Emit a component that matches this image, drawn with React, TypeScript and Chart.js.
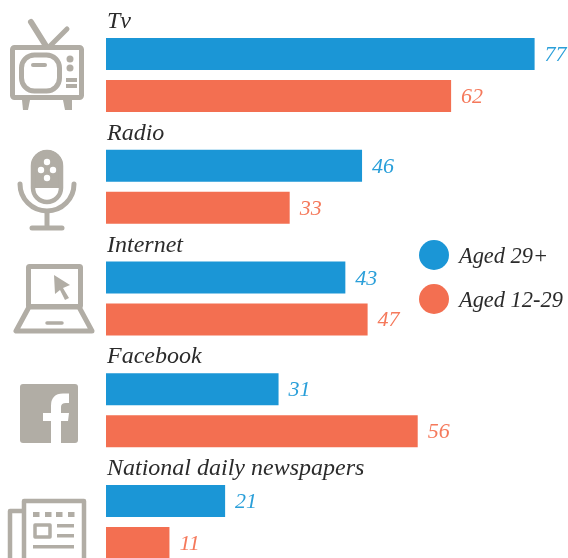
import React, { useEffect, useRef } from "react";
import { Chart, registerables } from "chart.js";

Chart.register(...registerables);

const categories = ["Tv", "Radio", "Internet", "Facebook", "National daily newspapers"];
const aged29plus = [77, 46, 43, 31, 21.4];
const aged12to29 = [62, 33, 47, 56, 11.4];
const seriesNames = ["Aged 29+", "Aged 12-29"];

const BLUE = "#1B96D6";
const ORANGE = "#F36F51";
const GREY = "#B1ADA5";
const INK = "#2b2b2b";
const SERIF = '"Liberation Serif"';

function line(c: CanvasRenderingContext2D, x1: number, y1: number, x2: number, y2: number, w: number, cap: CanvasLineCap = "butt") {
  c.lineWidth = w;
  c.lineCap = cap;
  c.beginPath();
  c.moveTo(x1, y1);
  c.lineTo(x2, y2);
  c.stroke();
}
function poly(c: CanvasRenderingContext2D, pts: number[][]) {
  c.beginPath();
  pts.forEach((p, i) => (i ? c.lineTo(p[0], p[1]) : c.moveTo(p[0], p[1])));
  c.closePath();
}
function rrect(c: CanvasRenderingContext2D, x: number, y: number, w: number, h: number, r: number, lw: number) {
  c.lineWidth = lw;
  c.beginPath();
  c.roundRect(x, y, w, h, r);
  c.stroke();
}
function dot(c: CanvasRenderingContext2D, x: number, y: number, r: number) {
  c.beginPath();
  c.arc(x, y, r, 0, Math.PI * 2);
  c.fill();
}

function drawIcons(c: CanvasRenderingContext2D) {
  c.save();
  c.strokeStyle = GREY;
  c.fillStyle = GREY;
  c.lineJoin = "round";
  // TV
  line(c, 31, 22, 46, 46, 6, "round");
  line(c, 67, 29, 50, 46, 5, "round");
  rrect(c, 12.5, 47.5, 69, 50, 2, 5);
  rrect(c, 21.5, 55, 38, 36, 13, 5);
  line(c, 33, 65, 45, 65, 4, "round");
  dot(c, 70, 59, 3.5);
  dot(c, 70, 68, 3.5);
  c.fillRect(66, 78, 11, 4);
  c.fillRect(66, 84, 11, 4);
  poly(c, [[22, 100], [30, 100], [28, 110], [23, 110]]);
  c.fill();
  poly(c, [[63, 100], [72, 100], [72, 110], [65, 110]]);
  c.fill();
  // Microphone
  c.beginPath();
  c.roundRect(31, 150, 32, 38, [16, 16, 0, 0]);
  c.fill();
  rrect(c, 33, 152, 28, 50, 14, 4.5);
  c.fillStyle = "#fff";
  [[47, 162], [41, 170], [53, 170], [47, 178]].forEach((p) => dot(c, p[0], p[1], 3.2));
  c.fillStyle = GREY;
  c.lineWidth = 5;
  c.lineCap = "round";
  c.beginPath();
  c.arc(47, 184, 27, 0, Math.PI);
  c.stroke();
  line(c, 47, 211, 47, 228, 5);
  line(c, 32, 228, 62, 228, 5, "round");
  // Laptop
  rrect(c, 28.5, 266.5, 52, 40, 1, 5);
  poly(c, [[54, 275], [70, 285], [63, 288], [69, 298], [65, 300], [60, 290], [55, 294]]);
  c.fill();
  c.lineWidth = 5;
  poly(c, [[29, 307], [16, 331], [92, 331], [79, 307]]);
  c.stroke();
  line(c, 47, 323, 62, 323, 3.5, "round");
  // Facebook
  c.beginPath();
  c.roundRect(20, 384, 58, 59, 3);
  c.fill();
  c.fillStyle = "#fff";
  c.beginPath();
  c.moveTo(51, 443);
  c.lineTo(61, 443);
  c.lineTo(61, 421);
  c.lineTo(68, 421);
  c.lineTo(69, 413);
  c.lineTo(61, 413);
  c.lineTo(61, 407);
  c.quadraticCurveTo(61, 403, 66, 403);
  c.lineTo(69, 403);
  c.lineTo(69, 393.5);
  c.lineTo(63, 393.5);
  c.quadraticCurveTo(51, 393.5, 51, 406);
  c.lineTo(51, 413);
  c.lineTo(43, 413);
  c.lineTo(43, 421);
  c.lineTo(51, 421);
  c.closePath();
  c.fill();
  c.fillStyle = GREY;
  // Newspaper
  c.lineWidth = 4.5;
  c.beginPath();
  c.moveTo(24, 562);
  c.lineTo(24, 501);
  c.lineTo(84, 501);
  c.lineTo(84, 562);
  c.stroke();
  c.beginPath();
  c.moveTo(22, 511);
  c.lineTo(10, 511);
  c.lineTo(10, 562);
  c.stroke();
  [33, 45, 56, 68].forEach((x) => c.fillRect(x, 512, 6.5, 5));
  c.lineWidth = 3.5;
  c.strokeRect(35, 525, 15, 12);
  c.fillRect(57, 524, 17, 3.5);
  c.fillRect(57, 534, 17, 3.5);
  c.fillRect(33, 545, 41, 3.5);
  c.restore();
}

const overlay = {
  id: "overlay",
  afterDraw(chart: any) {
    const c: CanvasRenderingContext2D = chart.ctx;
    drawIcons(c);
    c.save();
    c.textBaseline = "alphabetic";
    c.textAlign = "left";
    const yScale = chart.scales.y;
    c.font = `italic 24px ${SERIF}`;
    c.fillStyle = INK;
    categories.forEach((name, i) => {
      c.fillText(name, 107, yScale.getPixelForTick(i) - 47);
    });
    c.font = `italic 22px ${SERIF}`;
    chart.data.datasets.forEach((ds: any, di: number) => {
      const meta = chart.getDatasetMeta(di);
      c.fillStyle = di === 0 ? "#2A9FD9" : "#F5795B";
      meta.data.forEach((bar: any, i: number) => {
        c.fillText(String(Math.round(ds.data[i])), bar.x + 10, bar.y + 7);
      });
    });
    const legendY = [255, 299];
    seriesNames.forEach((name, i) => {
      c.fillStyle = i === 0 ? BLUE : ORANGE;
      dot(c, 434, legendY[i], 15);
      c.fillStyle = INK;
      c.font = `italic 22.4px ${SERIF}`;
      c.fillText(name, 459, legendY[i] + 8);
    });
    c.restore();
  },
};

export default function App() {
  const ref = useRef<HTMLCanvasElement>(null);
  useEffect(() => {
    document.body.style.margin = "0";
    const chart = new Chart(ref.current!, {
      type: "bar",
      data: {
        labels: categories,
        datasets: [
          { label: seriesNames[0], data: aged29plus, backgroundColor: BLUE },
          { label: seriesNames[1], data: aged12to29, backgroundColor: ORANGE },
        ],
      },
      options: {
        indexAxis: "y",
        animation: false,
        responsive: false,
        maintainAspectRatio: false,
        devicePixelRatio: 1,
        layout: { padding: { left: 106, top: 19, right: 0, bottom: 0 } },
        datasets: { bar: { categoryPercentage: 0.7513, barPercentage: 0.762 } },
        scales: {
          x: { display: false, min: 0, max: 83 },
          y: { display: false },
        },
        plugins: { legend: { display: false }, tooltip: { enabled: false } },
      } as any,
      plugins: [overlay],
    });
    return () => chart.destroy();
  }, []);
  return (
    <div style={{ position: "fixed", left: 0, top: 0, width: 568, height: 558, overflow: "hidden", background: "#fff" }}>
      <canvas ref={ref} width={568} height={578} style={{ display: "block" }} />
    </div>
  );
}
